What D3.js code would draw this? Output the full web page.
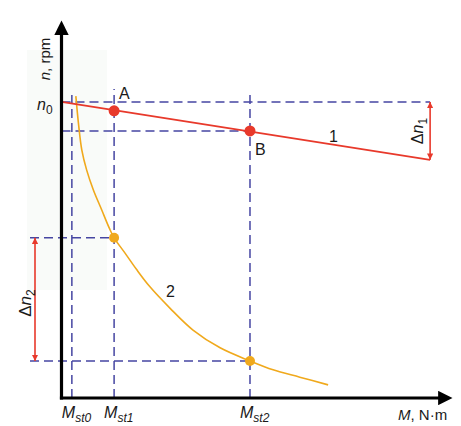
<!DOCTYPE html>
<html><head><meta charset="utf-8">
<script src="https://cdn.jsdelivr.net/npm/d3@7"></script>
<style>body{margin:0;background:#fff}svg{display:block}text{font-family:"Liberation Sans",Arial,sans-serif;fill:#1a1a1a}</style>
</head><body>
<svg id="c" width="461" height="426"></svg>
<script>
// Data (arbitrary units: M along x, n along y)
const Mst = [0.26, 1.32, 4.73];          // Mst0, Mst1, Mst2
const mstLabels = ["st0", "st1", "st2"];
const n0 = 7.67;
const line1 = [[0, 7.67], [9.25, 6.17]];   // characteristic 1
const pointA = [1.32, 7.44];
const pointB = [4.73, 6.92];
const curve2 = [[0.36,7.82],[0.43,7.07],[0.51,6.42],[0.63,5.91],[0.80,5.39],[1.01,4.87],[1.20,4.40],[1.32,4.15],[1.59,3.76],[1.89,3.32],[2.22,2.88],[2.72,2.33],[3.30,1.76],[3.98,1.30],[4.73,0.96],[5.31,0.73],[5.98,0.54],[6.69,0.34]];
const curvePts = [[1.32, 4.15], [4.73, 0.96]];
const dn1 = [6.17, 7.67];
const dn2 = [0.96, 4.15];

const svg = d3.select("#c");
const x = d3.scaleLinear().domain([0, 10]).range([61.5, 460]);
const y = d3.scaleLinear().domain([0, 10]).range([398, 12]);

const blue = "#4646a2", red = "#e8392b", orange = "#f0a91c";

// faint background panel
svg.append("rect").attr("x", 27).attr("y", 50).attr("width", 80).attr("height", 240).attr("fill", "#f9fbf9");

function dash(x1, y1, x2, y2) {
  svg.append("line").attr("x1", x1).attr("y1", y1).attr("x2", x2).attr("y2", y2)
    .attr("stroke", blue).attr("stroke-width", 1.5).attr("stroke-dasharray", "9,5");
}
// horizontal dashed
dash(x(0), y(n0), x(line1[1][0]), y(n0));
dash(x(0), y(pointB[1]), x(pointB[0]), y(pointB[1]));
dash(30, y(curvePts[0][1]), x(curvePts[0][0]), y(curvePts[0][1]));
dash(30, y(curvePts[1][1]), x(curvePts[1][0]), y(curvePts[1][1]));
// vertical dashed
dash(x(Mst[0]), y(0), x(Mst[0]), 92);
dash(x(Mst[1]), y(0), x(Mst[1]), 89);
dash(x(Mst[2]), y(0), x(Mst[2]), 93);

// curve 2
svg.append("path").datum(curve2)
  .attr("d", d3.line().x(d => x(d[0])).y(d => y(d[1])).curve(d3.curveCatmullRom.alpha(0.5)))
  .attr("fill", "none").attr("stroke", orange).attr("stroke-width", 1.6);
// line 1
svg.append("path").datum(line1)
  .attr("d", d3.line().x(d => x(d[0])).y(d => y(d[1])))
  .attr("fill", "none").attr("stroke", red).attr("stroke-width", 1.8);

// points
svg.selectAll(".pr").data([pointA, pointB]).join("circle")
  .attr("cx", d => x(d[0])).attr("cy", d => y(d[1])).attr("r", 5.5).attr("fill", red);
svg.selectAll(".po").data(curvePts).join("circle")
  .attr("cx", d => x(d[0])).attr("cy", d => y(d[1])).attr("r", 5).attr("fill", orange);

// delta arrows
const defs = svg.append("defs");
defs.append("marker").attr("id", "ah").attr("viewBox", "0 0 10 10").attr("refX", 10).attr("refY", 5)
  .attr("markerWidth", 4).attr("markerHeight", 4).attr("orient", "auto-start-reverse").attr("markerUnits", "strokeWidth")
  .append("path").attr("d", "M0,0L10,5L0,10Z").attr("fill", red);
function darrow(px, v1, v2) {
  svg.append("line").attr("x1", px).attr("x2", px).attr("y1", y(v1)).attr("y2", y(v2))
    .attr("stroke", red).attr("stroke-width", 1.6)
    .attr("marker-start", "url(#ah)").attr("marker-end", "url(#ah)");
}
darrow(x(line1[1][0]), dn1[0], dn1[1]);
darrow(35, dn2[0], dn2[1]);

// axes
defs.append("marker").attr("id", "ax").attr("viewBox", "0 0 10 10").attr("refX", 2).attr("refY", 5)
  .attr("markerWidth", 4.5).attr("markerHeight", 4.5).attr("orient", "auto").attr("markerUnits", "strokeWidth")
  .append("path").attr("d", "M0,0L10,5L0,10Z").attr("fill", "#000");
svg.append("line").attr("x1", x(0)).attr("y1", y(0) + 1.5).attr("x2", x(0)).attr("y2", 32)
  .attr("stroke", "#000").attr("stroke-width", 3.2).attr("marker-end", "url(#ax)");
svg.append("line").attr("x1", x(0) - 1.6).attr("y1", y(0)).attr("x2", 441).attr("y2", y(0))
  .attr("stroke", "#000").attr("stroke-width", 3.2).attr("marker-end", "url(#ax)");

// labels
function sublabel(tx, ty, main, sub, opts = {}) {
  const t = svg.append("text").attr("x", tx).attr("y", ty).attr("font-size", opts.size || 16);
  if (opts.rotate) t.attr("transform", `rotate(-90,${tx},${ty})`).attr("text-anchor", "middle");
  if (opts.pre) t.append("tspan").text(opts.pre);
  t.append("tspan").attr("font-style", "italic").text(main);
  t.append("tspan").attr("font-size", 12).attr("dy", 4).attr("font-style", opts.subItalic ? "italic" : "normal").text(sub);
  return t;
}
sublabel(37, 110, "n", "0");
Mst.forEach((m, i) => sublabel(x(m) - 10, 418, "M", mstLabels[i], { subItalic: true }));
sublabel(423, 131, "n", "1", { rotate: true, pre: "Δ" });
sublabel(31, 303, "n", "2", { rotate: true, pre: "Δ", size: 17 });

const ylab = svg.append("text").attr("transform", "rotate(-90,50,59)").attr("x", 50).attr("y", 59)
  .attr("text-anchor", "middle").attr("font-size", 15);
ylab.append("tspan").attr("font-style", "italic").text("n");
ylab.append("tspan").text(", rpm");
const xlab = svg.append("text").attr("x", 398).attr("y", 420).attr("font-size", 15);
xlab.append("tspan").attr("font-style", "italic").text("M");
xlab.append("tspan").text(", N·m");

svg.append("text").attr("x", 119).attr("y", 99).attr("font-size", 16).text("A");
svg.append("text").attr("x", 255).attr("y", 155).attr("font-size", 16).text("B");
svg.append("text").attr("x", 329).attr("y", 142).attr("font-size", 16).text("1");
svg.append("text").attr("x", 166).attr("y", 297).attr("font-size", 16).text("2");
</script>
</body></html>
